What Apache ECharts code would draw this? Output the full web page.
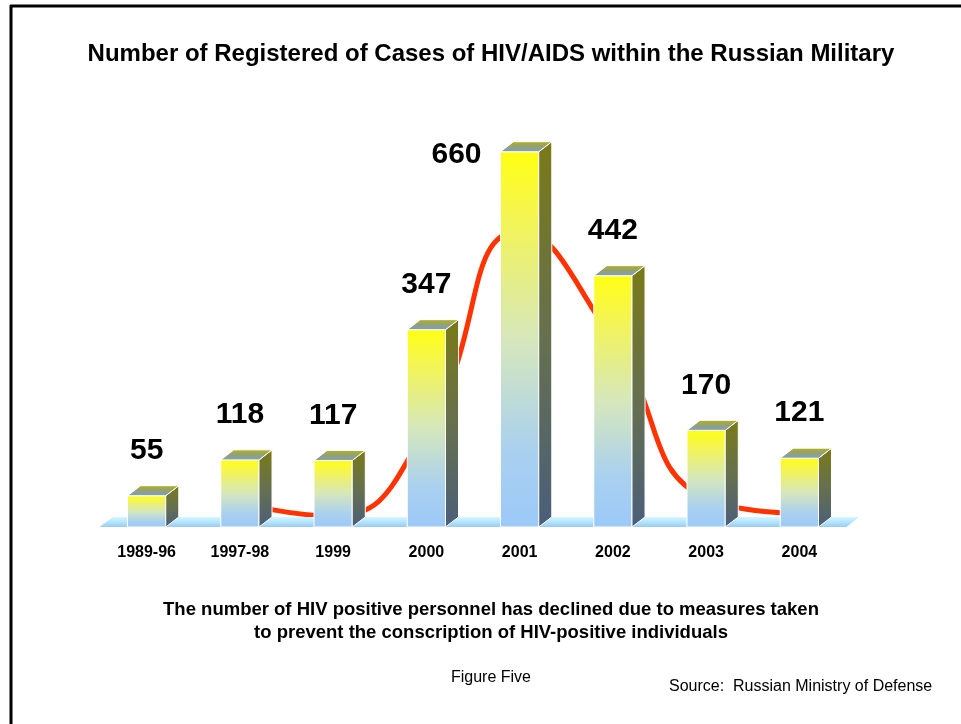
<!DOCTYPE html>
<html>
<head>
<meta charset="utf-8">
<script src="https://cdn.jsdelivr.net/npm/echarts@6/dist/echarts.min.js"></script>
<style>
html,body{margin:0;padding:0;background:#fff;}
#chart{width:961px;height:724px;}
</style>
</head>
<body>
<div id="chart"></div>
<script>
const categories = ['1989-96', '1997-98', '1999', '2000', '2001', '2002', '2003', '2004'];
const cases = [55, 118, 117, 347, 660, 442, 170, 121];
const trend = [null, 42, 19, 171, 520, 329, 50, 24];
const titleText = 'Number of Registered of Cases of HIV/AIDS within the Russian Military';
const noteLines = ['The number of HIV positive personnel has declined due to measures taken',
                   'to prevent the conscription of HIV-positive individuals'];
const figureText = 'Figure Five';
const sourceText = 'Source:  Russian Ministry of Defense';

const FONT = 'Arial, "Liberation Sans", sans-serif';
const chart = echarts.init(document.getElementById('chart'), null, {renderer: 'canvas'});

function grad(x2, y2, stops) {
  return new echarts.graphic.LinearGradient(0, 0, x2, y2, stops.map((c) => ({offset: c[0], color: c[1]})));
}

function renderFloor(params, api) {
  const cs = params.coordSys;
  const band = api.size([1, 0])[0];
  const dx = band * 0.14, dy = dx * 0.77;
  const x0 = cs.x - 1, x1 = cs.x + cs.width + 1, yB = cs.y + cs.height;
  return {
    type: 'group',
    children: [
      {type: 'polygon', shape: {points: [[x0, yB], [x0 + dx, yB - dy], [x1 + dx, yB - dy], [x1, yB]]},
       style: {fill: grad(0, 1, [[0, '#d4f8ff'], [0.5, '#b4e4fc'], [1, '#9ccaf8']])}},
      {type: 'line', shape: {x1: x0, y1: yB, x2: x0 + dx, y2: yB - dy}, style: {stroke: '#ffffff', lineWidth: 1}},
      {type: 'line', shape: {x1: x1, y1: yB, x2: x1 + dx, y2: yB - dy}, style: {stroke: '#ffffff', lineWidth: 1}}
    ]
  };
}

function renderBar(params, api) {
  const idx = api.value(0), v = api.value(1);
  const top = api.coord([idx, v]);
  const base = api.coord([idx, 0]);
  const band = api.size([1, 0])[0];
  const w = band * 0.41, dx = band * 0.14, dy = dx * 0.77;
  const xL = top[0] - w / 2, xR = top[0] + w / 2, yT = top[1], yB = base[1];
  const cs = params.coordSys;
  let label;
  if (yT - 58 < cs.y) {
    label = {x: xL - 19, y: yT + 3, align: 'right'};
  } else {
    label = {x: top[0], y: yT - 45, align: 'center'};
  }
  return {
    type: 'group',
    children: [
      {type: 'rect', shape: {x: xL, y: yT, width: w, height: yB - yT},
       style: {fill: grad(0, 1, [[0, '#ffff12'], [0.15, '#f6f64a'], [0.5, '#d6e7bc'], [0.8, '#a9d0f0'], [1, '#9cc9f8']]),
               stroke: '#ffffff', lineWidth: 1}},
      {type: 'polygon', shape: {points: [[xR, yT], [xR + dx, yT - dy], [xR + dx, yB - dy], [xR, yB]]},
       style: {fill: grad(0, 1, [[0, '#7a7a16'], [0.5, '#66704e'], [1, '#4a5e7a']]), stroke: '#ffffff', lineWidth: 1}},
      {type: 'polygon', shape: {points: [[xL, yT], [xL + dx, yT - dy], [xR + dx, yT - dy], [xR, yT]]},
       style: {fill: grad(0, 1, [[0, '#b8b20c'], [0.45, '#94a270'], [1, '#7c9ec4']]), stroke: '#ffffff', lineWidth: 1}},
      {type: 'text', x: label.x, y: label.y,
       style: {text: String(v), align: label.align, verticalAlign: 'middle', fill: '#000',
               font: 'bold 30px ' + FONT}}
    ]
  };
}

const option = {
  backgroundColor: '#ffffff',
  animation: false,
  grid: {left: 100, right: 115, top: 129, bottom: 197},
  xAxis: {
    type: 'category', data: categories, boundaryGap: true,
    axisLine: {show: false}, axisTick: {show: false}, splitLine: {show: false},
    axisLabel: {margin: 18, color: '#000', fontWeight: 'bold', fontSize: 16, fontFamily: FONT}
  },
  yAxis: {type: 'value', min: 0, max: 700, show: false, splitLine: {show: false}},
  series: [
    {type: 'line', data: trend, smooth: 0.5, symbol: 'none', z: 1, connectNulls: false,
     lineStyle: {color: '#ff3300', width: 5}},
    {type: 'custom', data: [[0, 0]], renderItem: renderFloor, z: 2, silent: true},
    {type: 'custom', data: cases.map((v, i) => [i, v]), renderItem: renderBar, z: 3,
     encode: {x: 0, y: 1}}
  ],
  graphic: [
    {type: 'line', shape: {x1: 11, y1: 5, x2: 11, y2: 724}, style: {stroke: '#000', lineWidth: 3}},
    {type: 'line', shape: {x1: 10, y1: 6, x2: 961, y2: 6}, style: {stroke: '#000', lineWidth: 3}},
    {type: 'text', x: 491, y: 54, style: {text: titleText, align: 'center', verticalAlign: 'middle',
      font: 'bold 24px ' + FONT, fill: '#000'}},
    {type: 'text', x: 491, y: 610, style: {text: noteLines[0], align: 'center', verticalAlign: 'middle',
      font: 'bold 18.5px ' + FONT, fill: '#000'}},
    {type: 'text', x: 491, y: 633, style: {text: noteLines[1], align: 'center', verticalAlign: 'middle',
      font: 'bold 18.5px ' + FONT, fill: '#000'}},
    {type: 'text', x: 491, y: 678, style: {text: figureText, align: 'center', verticalAlign: 'middle',
      font: '16px ' + FONT, fill: '#000'}},
    {type: 'text', x: 669, y: 687, style: {text: sourceText, align: 'left', verticalAlign: 'middle',
      font: '16px ' + FONT, fill: '#000'}}
  ]
};
chart.setOption(option);
</script>
</body>
</html>
